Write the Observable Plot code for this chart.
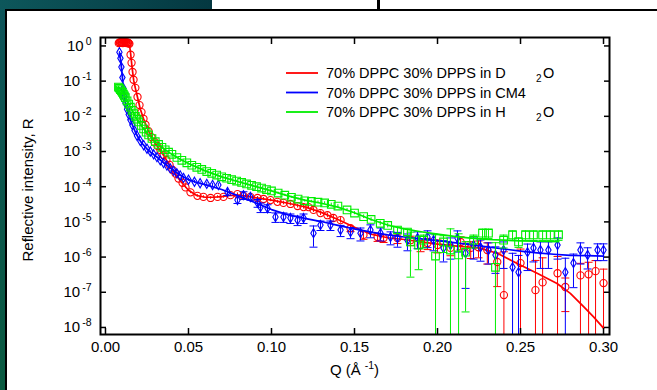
<!DOCTYPE html>
<html><head><meta charset="utf-8">
<script src="https://cdn.jsdelivr.net/npm/d3@7"></script>
<script src="https://cdn.jsdelivr.net/npm/@observablehq/plot@0.6"></script>
<style>
html,body{margin:0;padding:0;background:#0b4f4f;}
#wrap{position:relative;width:657px;height:390px;overflow:hidden;background:#0b4f4f;font-family:"Liberation Sans",Arial,sans-serif;}
.left{position:absolute;left:0;top:0;width:6px;height:390px;background:linear-gradient(to bottom,#0d5359,#0a5a40);}
.topstrip{position:absolute;left:0;top:0;width:212px;height:10px;background:linear-gradient(to right,#0d575b,#043841);}
.box1{position:absolute;left:212px;top:0;width:165px;height:10px;background:#fff;}
.div1{position:absolute;left:377px;top:0;width:3px;height:10px;background:#000;}
.box2{position:absolute;left:380px;top:0;width:277px;height:10px;background:#fff;}
.panel{position:absolute;left:5px;top:9px;width:652px;height:381px;background:#fff;border-left:2px solid #000;border-top:2px solid #000;box-sizing:border-box;}
#chart{position:absolute;left:0;top:0;}
</style></head>
<body>
<div id="wrap">
  <div class="left"></div><div class="topstrip"></div><div class="box1"></div><div class="div1"></div><div class="box2"></div>
  <div class="panel"></div>
  <div id="chart"></div>
</div>
<script>
// ---- data: [Q (1/Å), log10 R, relative error dR/R] ----
const redD2O = [
[0.0080,0.08,0.05],[0.0084,0.10,0.05],[0.0088,0.09,0.05],[0.0092,0.11,0.05],[0.0096,0.09,0.05],[0.0100,0.10,0.05],[0.0104,0.08,0.05],[0.0108,0.10,0.05],
[0.0112,0.09,0.05],[0.0116,0.11,0.05],[0.0120,0.09,0.05],[0.0124,0.10,0.05],[0.0128,0.08,0.05],[0.0132,0.10,0.05],[0.0136,0.09,0.05],[0.0140,0.08,0.05],[0.0144,0.06,0.05],
[0.0151,-0.25,0.05],[0.0157,-0.48,0.05],[0.0163,-0.74,0.05],[0.0169,-0.96,0.05],[0.0180,-1.19,0.05],[0.0193,-1.45,0.05],[0.0205,-1.68,0.05],[0.0217,-1.88,0.05],
[0.0229,-2.07,0.05],[0.0241,-2.24,0.05],[0.0259,-2.42,0.05],[0.0277,-2.59,0.05],[0.0295,-2.73,0.05],[0.0313,-2.84,0.05],[0.0331,-2.96,0.05],[0.0349,-3.10,0.05],
[0.0367,-3.24,0.05],[0.0386,-3.38,0.05],[0.0404,-3.52,0.05],[0.0422,-3.63,0.05],[0.0440,-3.77,0.06],[0.0464,-3.89,0.06],[0.0482,-4.02,0.06],[0.0512,-4.16,0.08],
[0.0554,-4.26,0.08],[0.0590,-4.29,0.08],[0.0633,-4.32,0.08],[0.0675,-4.29,0.08],[0.0711,-4.29,0.08],[0.0753,-4.24,0.08],[0.0795,-4.21,0.08],[0.0831,-4.26,0.1],
[0.0873,-4.29,0.1],[0.0916,-4.32,0.1],[0.0952,-4.35,0.1],[0.0994,-4.38,0.1],[0.1036,-4.43,0.1],[0.1072,-4.46,0.12],[0.1114,-4.49,0.12],[0.1157,-4.55,0.12],
[0.1193,-4.58,0.12],[0.1223,-4.58,0.15],[0.1253,-4.66,0.15],[0.1295,-4.75,0.15],[0.1337,-4.81,0.15],[0.1373,-4.89,0.18],[0.1416,-4.95,0.18],[0.1476,-5.18,0.2],
[0.1554,-5.37,0.25],[0.1639,-5.43,0.25],[0.1675,-5.46,0.25],[0.1759,-5.46,0.3],[0.1837,-5.52,0.3],[0.1898,-5.66,0.35],[0.1940,-5.60,0.35],[0.2000,-5.66,0.4],
[0.2078,-5.74,0.4],[0.2139,-5.57,0.4],[0.2200,-5.74,0.5],[0.2247,-5.72,0.5],[0.2300,-5.80,0.6],[0.2360,-6.14,0.8],[0.2400,-7.08,16],[0.2500,-6.17,1.5],
[0.2590,-6.94,6],[0.2633,-6.72,4],[0.2723,-6.46,2],[0.2770,-6.85,0.8],[0.2861,-6.52,1.2],[0.2910,-6.49,1.2],[0.2952,-6.40,1.0],[0.3000,-6.74,1.5]
];
const redFit = [
[0.008,0],[0.0145,0],[0.0150,-0.15],[0.0160,-0.6],[0.0170,-0.98],[0.0180,-1.2],[0.0195,-1.5],[0.021,-1.8],[0.023,-2.08],[0.026,-2.43],[0.030,-2.77],[0.035,-3.11],
[0.040,-3.5],[0.045,-3.83],[0.050,-4.1],[0.055,-4.25],[0.060,-4.3],[0.065,-4.3],[0.070,-4.28],[0.075,-4.25],[0.080,-4.24],[0.085,-4.27],[0.090,-4.31],[0.100,-4.38],
[0.110,-4.47],[0.120,-4.57],[0.130,-4.73],[0.140,-4.93],[0.150,-5.15],[0.160,-5.35],[0.170,-5.45],[0.180,-5.5],[0.190,-5.57],[0.200,-5.63],[0.210,-5.68],[0.225,-5.74],
[0.236,-5.89],[0.248,-6.18],[0.260,-6.46],[0.272,-6.75],[0.280,-7.03],[0.288,-7.41],[0.294,-7.7],[0.300,-8.02]
];
const blueCM4 = [
[0.0084,-0.18,0.05],[0.0090,-0.35,0.05],[0.0096,-0.60,0.05],[0.0102,-0.90,0.05],[0.0108,-1.20,0.05],[0.0114,-1.45,0.05],[0.0120,-1.62,0.05],[0.0130,-1.80,0.05],
[0.0140,-1.95,0.05],[0.0150,-2.10,0.05],[0.0162,-2.25,0.05],[0.0175,-2.40,0.05],[0.0190,-2.55,0.05],[0.0210,-2.70,0.05],[0.0230,-2.82,0.05],[0.0250,-2.92,0.05],
[0.0270,-3.00,0.05],[0.0290,-3.08,0.05],[0.0310,-3.16,0.05],[0.0330,-3.25,0.06],[0.0350,-3.33,0.06],[0.0370,-3.40,0.06],[0.0390,-3.48,0.06],[0.0410,-3.55,0.08],
[0.0430,-3.62,0.08],[0.0450,-3.68,0.08],[0.0470,-3.75,0.1],[0.0500,-3.80,0.1],[0.0536,-3.86,0.1],[0.0570,-3.90,0.1],[0.0610,-3.92,0.12],[0.0645,-3.95,0.12],
[0.0680,-3.95,0.12],[0.0735,-4.15,0.2],[0.0795,-4.38,0.2],[0.0831,-4.24,0.25],[0.0873,-4.29,0.2],[0.0916,-4.46,0.25],[0.0934,-4.58,0.3],[0.0976,-4.61,0.25],
[0.1024,-4.86,0.3],[0.1072,-4.86,0.3],[0.1114,-4.89,0.3],[0.1157,-4.95,0.3],[0.1193,-4.89,0.3],[0.1253,-5.32,0.6],[0.1295,-5.09,0.3],[0.1355,-5.09,0.3],
[0.1416,-5.23,0.35],[0.1476,-5.29,0.35],[0.1536,-5.32,0.4],[0.1596,-5.23,0.4],[0.1657,-5.32,0.4],[0.1717,-5.43,0.4],[0.1759,-5.46,0.45],[0.1819,-5.52,0.5],
[0.1880,-5.46,0.5],[0.1940,-5.43,0.5],[0.1976,-5.52,0.5],[0.2036,-5.74,0.6],[0.2078,-5.66,0.6],[0.2120,-5.46,0.6],[0.2169,-5.89,0.9],[0.2217,-5.66,0.6],
[0.2259,-5.72,0.6],[0.2307,-5.80,0.6],[0.2349,-5.94,0.7],[0.2398,-5.80,0.7],[0.2452,-6.29,1.5],[0.2488,-6.43,2],[0.2542,-5.86,0.7],[0.2578,-5.74,0.6],
[0.2620,-5.80,0.7],[0.2668,-5.80,0.7],[0.2723,-5.66,0.6],[0.2770,-6.43,1.5],[0.2819,-6.17,0.8],[0.2861,-5.80,0.6],[0.2904,-5.94,0.6],[0.2964,-5.80,0.5],[0.3000,-5.80,0.5]
];
const blueFit = [
[0.0084,-0.2],[0.009,-0.36],[0.0096,-0.6],[0.0102,-0.9],[0.0108,-1.2],[0.0114,-1.42],[0.012,-1.6],[0.013,-1.8],[0.014,-1.96],[0.015,-2.1],[0.0165,-2.28],[0.018,-2.45],
[0.02,-2.63],[0.022,-2.77],[0.025,-2.93],[0.028,-3.05],[0.031,-3.16],[0.035,-3.32],[0.04,-3.5],[0.045,-3.67],[0.05,-3.8],[0.055,-3.88],[0.06,-3.94],[0.07,-4.08],
[0.08,-4.26],[0.09,-4.45],[0.1,-4.65],[0.11,-4.8],[0.12,-4.9],[0.13,-4.99],[0.14,-5.1],[0.15,-5.2],[0.16,-5.29],[0.17,-5.37],[0.18,-5.43],[0.19,-5.48],[0.2,-5.53],
[0.21,-5.59],[0.22,-5.65],[0.23,-5.71],[0.24,-5.77],[0.25,-5.83],[0.26,-5.88],[0.27,-5.92],[0.28,-5.95],[0.29,-5.96],[0.30,-5.97]
];
const greenH2O = [
[0.0078,-1.17,0.05],[0.0084,-1.20,0.05],[0.0090,-1.24,0.05],[0.0096,-1.28,0.05],[0.0102,-1.32,0.05],[0.0108,-1.37,0.05],[0.0114,-1.42,0.05],[0.0120,-1.47,0.05],
[0.0130,-1.56,0.05],[0.0140,-1.65,0.05],[0.0150,-1.74,0.05],[0.0160,-1.83,0.05],[0.0170,-1.92,0.05],[0.0180,-2.00,0.05],[0.0190,-2.08,0.05],[0.0200,-2.16,0.05],
[0.0215,-2.26,0.05],[0.0230,-2.36,0.05],[0.0245,-2.45,0.05],[0.0260,-2.53,0.05],[0.0280,-2.63,0.05],[0.0300,-2.72,0.05],[0.0320,-2.80,0.05],[0.0340,-2.88,0.05],
[0.0360,-2.95,0.05],[0.0380,-3.02,0.05],[0.0400,-3.08,0.05],[0.0430,-3.17,0.05],[0.0460,-3.25,0.05],[0.0490,-3.32,0.05],[0.0520,-3.39,0.05],[0.0550,-3.45,0.05],
[0.0580,-3.51,0.05],[0.0610,-3.57,0.05],[0.0640,-3.62,0.05],[0.0670,-3.67,0.05],[0.0700,-3.72,0.05],[0.0730,-3.76,0.05],[0.0760,-3.80,0.05],[0.0790,-3.84,0.05],
[0.0820,-3.88,0.05],[0.0850,-3.92,0.05],[0.0880,-3.96,0.05],[0.0910,-4.00,0.05],[0.0940,-4.04,0.05],[0.0970,-4.08,0.05],[0.1000,-4.12,0.05],[0.1040,-4.18,0.06],
[0.1080,-4.24,0.06],[0.1120,-4.30,0.06],[0.1160,-4.35,0.06],[0.1200,-4.40,0.08],[0.1240,-4.42,0.08],[0.1280,-4.44,0.08],[0.1320,-4.46,0.08],[0.1360,-4.50,0.08],
[0.1400,-4.55,0.1],[0.1455,-4.66,0.1],[0.1500,-4.75,0.1],[0.1555,-4.85,0.12],[0.1600,-4.93,0.12],[0.1655,-5.04,0.15],[0.1700,-5.10,0.15],[0.1759,-5.23,0.2],
[0.1819,-5.29,0.2],[0.1837,-5.57,0.9],[0.1886,-5.66,0.8],[0.1916,-5.52,0.4],[0.1988,-5.97,3],[0.2036,-5.57,0.5],[0.2078,-5.80,3],[0.2127,-5.94,3],
[0.2169,-5.86,0.98],[0.2217,-5.52,0.4],[0.2271,-5.32,0.3],[0.2307,-5.32,0.3],[0.2349,-6.29,4],[0.2398,-5.52,0.4],[0.2452,-5.37,0.3],[0.2488,-5.57,0.3],
[0.2530,-5.37,0.3],[0.2578,-5.37,0.3],[0.2633,-5.37,0.3],[0.2680,-5.37,0.3],[0.2729,-5.37,0.3]
];
const greenFit = [
[0.0078,-1.17],[0.01,-1.31],[0.012,-1.47],[0.015,-1.74],[0.018,-2.0],[0.02,-2.16],[0.023,-2.36],[0.026,-2.53],[0.03,-2.72],[0.035,-2.92],[0.04,-3.08],[0.045,-3.22],
[0.05,-3.34],[0.06,-3.55],[0.07,-3.72],[0.08,-3.86],[0.09,-3.99],[0.1,-4.12],[0.11,-4.26],[0.12,-4.38],[0.13,-4.47],[0.14,-4.58],[0.15,-4.74],[0.16,-4.93],
[0.17,-5.09],[0.18,-5.2],[0.19,-5.28],[0.2,-5.35],[0.21,-5.41],[0.22,-5.46],[0.23,-5.5],[0.24,-5.52],[0.25,-5.54],[0.26,-5.55],[0.273,-5.56]
];
const xTicks = [0, 0.05, 0.10, 0.15, 0.20, 0.25, 0.30];
const yTickExponents = [0, -1, -2, -3, -4, -5, -6, -7, -8];
const legendLabels = ["70% DPPC 30% DPPS in D", "70% DPPC 30% DPPS in CM4", "70% DPPC 30% DPPS in H"];
const legendSuffix = ["O", "", "O"];
const colors = ["#ff0000", "#0000ff", "#00ee00"];

// ---- build ----
const yMin = 10 ** -8.2, yMax = 10 ** 0.24;
const pxPerDecade = 297 / 8.44;
function rows(arr) {
  return arr.map(([q, lr, f]) => {
    const r = 10 ** lr, lo = r * (1 - f);
    return {q, r, hi: r * (1 + f), lo: lo > yMin ? lo : yMin,
            hiCap: Math.log10(1 + f) * pxPerDecade > 3.2,
            loCap: lo > yMin && (lr - Math.log10(lo)) * pxPerDecade > 3.2};
  });
}
const fitRows = arr => arr.map(([q, lr]) => ({q, r: 10 ** lr}));
const capSymbol = {draw(ctx, size) { const w = Math.sqrt(size / Math.PI); ctx.moveTo(-w, 0); ctx.lineTo(w, 0); }};

function seriesMarks(arr, fit, color, symbol, r) {
  const data = rows(arr);
  return [
    Plot.ruleX(data, {x: "q", y1: "lo", y2: "hi", stroke: color, strokeWidth: 1, clip: true}),
    Plot.dot(data.filter(d => d.hiCap), {x: "q", y: "hi", symbol: capSymbol, r: 4, stroke: color, fill: "none", strokeWidth: 1, clip: true}),
    Plot.dot(data.filter(d => d.loCap), {x: "q", y: "lo", symbol: capSymbol, r: 4, stroke: color, fill: "none", strokeWidth: 1, clip: true}),
    Plot.dot(data, {x: "q", y: "r", symbol, r, stroke: color, fill: "none", strokeWidth: 1.1, clip: true}),
    Plot.line(fitRows(fit), {x: "q", y: "r", stroke: color, strokeWidth: 1.7, clip: true})
  ];
}

const chart = Plot.plot({
  width: 657, height: 390,
  marginLeft: 100, marginRight: 48, marginTop: 37, marginBottom: 56,
  style: {background: "transparent", fontFamily: "'Liberation Sans', Arial, sans-serif", fontSize: "15px", color: "black", overflow: "visible"},
  x: {domain: [-0.003, 0.3036], label: null},
  y: {type: "log", domain: [yMin, yMax], label: null},
  marks: [
    ...seriesMarks(redD2O, redFit, colors[0], "circle", 3.6),
    ...seriesMarks(blueCM4, blueFit, colors[1], "diamond", 2.8),
    ...seriesMarks(greenH2O, greenFit, colors[2], "square", 4.3),
    Plot.axisX({anchor: "bottom", ticks: xTicks, tickSize: -6, tickPadding: 13, strokeWidth: 1.5, tickFormat: d3.format(".2f"), label: null}),
    Plot.axisX({anchor: "top", ticks: xTicks, tickSize: -6, strokeWidth: 1.5, tickFormat: () => "", label: null}),
    Plot.axisY({anchor: "left", ticks: yTickExponents.map(e => 10 ** e), tickSize: -6, tickPadding: 15, strokeWidth: 1.5, tickFormat: d => String(Math.round(Math.log10(d))), label: null}),
    Plot.axisY({anchor: "right", ticks: yTickExponents.map(e => 10 ** e), tickSize: -6, strokeWidth: 1.5, tickFormat: () => "", label: null}),
    Plot.frame({stroke: "black", strokeWidth: 2})
  ]
});
document.getElementById("chart").appendChild(chart);

const svg = d3.select(chart);
// superscript exponents on the left y tick labels
svg.selectAll('g[aria-label="y-axis tick label"] text').each(function() {
  const t = d3.select(this);
  const e = t.text();
  if (!e) return;
  t.text("10");
  t.append("tspan").attr("dx", 2).attr("dy", -6).attr("font-size", 10.5).text(e);
});
const font = "'Liberation Sans', Arial, sans-serif";
// x-axis title
const xl = svg.append("text").attr("x", 354.5).attr("y", 375).attr("text-anchor", "middle")
  .attr("font-family", font).attr("font-size", 15).attr("fill", "black").text("Q (Å");
xl.append("tspan").attr("dx", 4).attr("dy", -6).attr("font-size", 10.5).text("-1");
xl.append("tspan").attr("dy", 6).text(")");
// y-axis title
svg.append("text").attr("transform", "translate(33,190) rotate(-90)").attr("text-anchor", "middle")
  .attr("font-family", font).attr("font-size", 15).attr("fill", "black").text("Reflective intensity, R");
// legend
const legendY = [73, 92.5, 112];
legendLabels.forEach((lab, i) => {
  const g = svg.append("g").attr("text-anchor", "start");
  g.append("line").attr("x1", 286).attr("x2", 318).attr("y1", legendY[i]).attr("y2", legendY[i])
    .attr("stroke", colors[i]).attr("stroke-width", 1.8);
  g.append("text").attr("x", 326).attr("y", legendY[i] + 5).attr("font-family", font).attr("font-size", 14.5).attr("fill", "black").text(lab);
  if (legendSuffix[i]) {
    g.append("text").attr("x", 536).attr("y", legendY[i] + 9).attr("font-family", font).attr("font-size", 10).attr("fill", "black").text("2");
    g.append("text").attr("x", 543).attr("y", legendY[i] + 5).attr("font-family", font).attr("font-size", 14.5).attr("fill", "black").text(legendSuffix[i]);
  }
});
</script>
</body></html>
